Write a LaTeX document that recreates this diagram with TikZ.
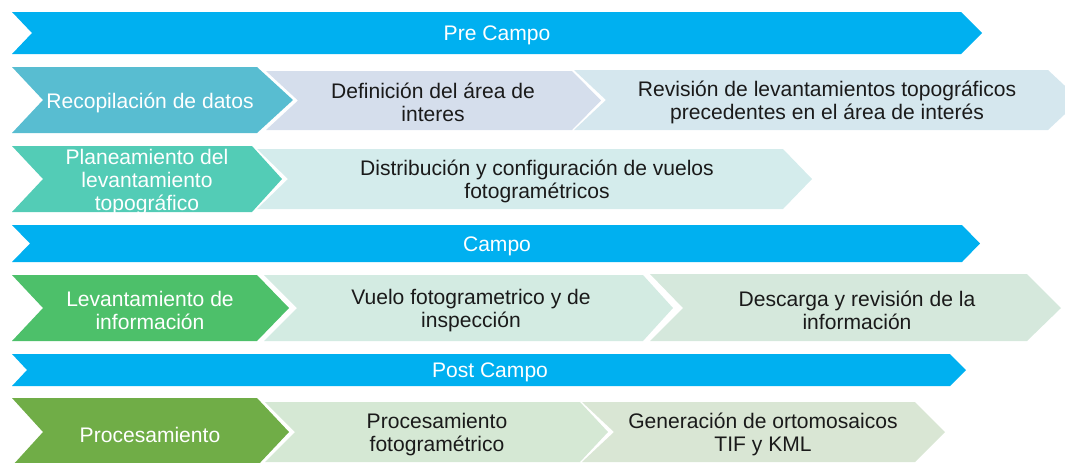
\documentclass[tikz,border=0pt]{standalone}
\usepackage{fontspec}
\setmainfont{Liberation Sans}
\definecolor{barblue}{HTML}{00B0F0}
\definecolor{recop}{HTML}{58BDD1}
\definecolor{defin}{HTML}{D5DEEC}
\definecolor{revis}{HTML}{D5E7EE}
\definecolor{planea}{HTML}{53CCB6}
\definecolor{distri}{HTML}{D4ECEC}
\definecolor{levant}{HTML}{4DC06A}
\definecolor{vuelo}{HTML}{D3EBE2}
\definecolor{descar}{HTML}{D5E8DC}
\definecolor{proces}{HTML}{70AD47}
\definecolor{procfo}{HTML}{D5E8D4}
\definecolor{genera}{HTML}{D9E6D4}
\definecolor{darktxt}{HTML}{1A1A1A}
% colour, x left, x notch, x corner, x tip, y top, y mid, y bottom
\newcommand\chv[8]{\fill[#1] (#2,#6) -- (#4,#6) -- (#5,#7) -- (#4,#8) -- (#2,#8) -- (#3,#7) -- cycle;}
\tikzset{
  lbl/.style={font=\fontsize{15.8}{17.2}\selectfont, align=center, inner sep=0pt, yshift=-1.9pt},
  wlbl/.style={lbl, text=white},
  dlbl/.style={lbl, text=darktxt},
}
\begin{document}
\begin{tikzpicture}[x=0.75pt,y=-0.75pt]
\useasboundingbox (0,0) rectangle (1065,462);
\clip (0,0) rectangle (1065,462);
% Pre Campo
\chv{barblue}{12}{32}{961}{982}{12}{33}{54}
\node[wlbl] (pre) at (497,33) {Pre Campo};
% row 2
\chv{revis}{574}{606}{1048}{1080}{70}{100}{130}
\chv{defin}{266}{298}{572}{601}{71}{100.5}{130}
\chv{recop}{12}{43}{257}{293}{67}{100}{133}
\node[wlbl] (recopilacion) at (150,100) {Recopilación de datos};
\node[dlbl] (definicion) at (433,100) {Definición del área de\\interes};
\node[dlbl] (revision) at (827,100) {Revisión de levantamientos topográficos\\precedentes en el área de interés};
% row 3
\chv{distri}{257}{288}{783}{812}{149}{179}{209}
\chv{planea}{12}{43}{252}{282}{146}{179}{212}
\node[wlbl] (planeamiento) at (147,179.5) {Planeamiento del\\levantamiento\\topográfico};
\node[dlbl] (distribucion) at (537,179) {Distribución y configuración de vuelos\\fotogramétricos};
% Campo
\chv{barblue}{12}{30}{962}{980}{225}{243.5}{262}
\node[wlbl] (campo) at (497,243.5) {Campo};
% row 5
\chv{descar}{650}{683}{1027}{1061}{274}{308}{341}
\chv{vuelo}{264}{297}{643}{673}{275}{308}{341}
\chv{levant}{12}{43}{257}{289}{275}{308}{341}
\node[wlbl] (levantamiento) at (150,308) {Levantamiento de\\información};
\node[dlbl] (vuelotxt) at (471,308) {Vuelo fotogrametrico y de\\inspección};
\node[dlbl] (descarga) at (857,308) {Descarga y revisión de la\\información};
% Post Campo
\chv{barblue}{12}{27}{950}{966}{354}{370}{386}
\node[wlbl] (post) at (490,370) {Post Campo};
% row 7
\chv{genera}{582}{614}{915}{945}{402}{432}{462}
\chv{procfo}{265}{295}{580}{608}{402}{432}{462}
\chv{proces}{12}{43}{257}{289}{398}{432}{466}
\node[wlbl] (procesamiento) at (150,432) {Procesamiento};
\node[dlbl] (procfoto) at (437,432) {Procesamiento\\fotogramétrico};
\node[dlbl] (generacion) at (763,432) {Generación de ortomosaicos\\TIF y KML};
\end{tikzpicture}
\end{document}
